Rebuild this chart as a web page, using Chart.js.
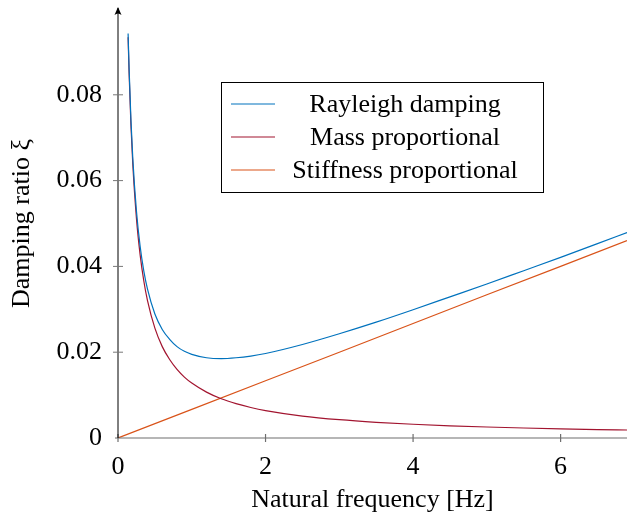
<!DOCTYPE html>
<html>
<head>
<meta charset="utf-8">
<script src="https://cdn.jsdelivr.net/npm/chart.js@4/dist/chart.umd.min.js"></script>
<style>
  html, body { margin: 0; padding: 0; background: #fff; }
  #wrap { width: 627px; height: 517px; }
</style>
</head>
<body>
<div id="wrap"><canvas id="chart" width="627" height="517"></canvas></div>
<script>
// values
var freq = [0.137, 0.15, 0.175, 0.2, 0.25, 0.3, 0.35, 0.4, 0.5, 0.6, 0.7, 0.8, 0.9, 1.0,
            1.2, 1.4, 1.6, 1.8, 2.0, 2.5, 3.0, 3.5, 4.0, 4.5, 5.0, 5.5, 6.0, 6.5, 6.9];
var rayleigh = [0.0943, 0.0863, 0.0743, 0.0653, 0.0529, 0.0447, 0.0389, 0.0347, 0.0289, 0.0253,
                0.0230, 0.0213, 0.0202, 0.0195, 0.0187, 0.0185, 0.0187, 0.0191, 0.0197, 0.0218,
                0.0243, 0.0270, 0.0299, 0.0329, 0.0359, 0.0390, 0.0421, 0.0453, 0.0479];
var massProp = [0.0934, 0.0853, 0.0731, 0.0640, 0.0512, 0.0427, 0.0366, 0.0320, 0.0256, 0.0213,
                0.0183, 0.0160, 0.0142, 0.0128, 0.0107, 0.00914, 0.0080, 0.00711, 0.0064, 0.00512,
                0.00427, 0.00366, 0.0032, 0.00284, 0.00256, 0.00233, 0.00213, 0.00197, 0.00186];
var stiffFreq = [0, 1, 2, 3, 4, 5, 6, 6.9];
var stiffProp = [0, 0.00667, 0.01334, 0.0200, 0.0267, 0.0334, 0.0400, 0.0460];

var seriesNames = ["Rayleigh damping", "Mass proportional", "Stiffness proportional"];
var xTicks = [0, 2, 4, 6];
var xTickLabels = ["0", "2", "4", "6"];
var yTicks = [0, 0.02, 0.04, 0.06, 0.08];
var yTickLabels = ["0", "0.02", "0.04", "0.06", "0.08"];

var FONT = "'Liberation Serif', 'Times New Roman', serif";
var FSIZE = 26;

function pairs(xs, ys) {
    var out = [];
    for (var i = 0; i < xs.length; i++) out.push({ x: xs[i], y: ys[i] });
    return out;
}

// axis lines, crossing ticks and the arrow on the y axis
var axesPlugin = {
    id: "axesPlugin",
    afterDatasetsDraw: function(chart) {
        var ctx = chart.ctx;
        var xs = chart.scales.x, ys = chart.scales.y;
        var x0 = xs.getPixelForValue(0), y0 = ys.getPixelForValue(0);
        ctx.save();
        // x axis
        ctx.strokeStyle = "#6e6e6e";
        ctx.lineWidth = 1.2;
        ctx.beginPath();
        ctx.moveTo(chart.chartArea.left - 3, y0);
        ctx.lineTo(chart.chartArea.right, y0);
        ctx.stroke();
        for (var i = 0; i < xTicks.length; i++) {
            var px = xs.getPixelForValue(xTicks[i]);
            ctx.beginPath();
            ctx.moveTo(px, y0 - 4);
            ctx.lineTo(px, y0 + 4);
            ctx.stroke();
        }
        // y axis
        ctx.strokeStyle = "#000";
        ctx.lineWidth = 1;
        ctx.beginPath();
        ctx.moveTo(x0, y0);
        ctx.lineTo(x0, chart.chartArea.top - 1);
        ctx.stroke();
        ctx.strokeStyle = "#777";
        for (var j = 1; j < yTicks.length; j++) {
            var py = ys.getPixelForValue(yTicks[j]);
            ctx.beginPath();
            ctx.moveTo(x0 - 5, py);
            ctx.lineTo(x0 + 5, py);
            ctx.stroke();
        }
        // arrow head
        var top = chart.chartArea.top - 2;
        ctx.fillStyle = "#000";
        ctx.beginPath();
        ctx.moveTo(x0, top);
        ctx.lineTo(x0 - 3.5, top + 8);
        ctx.quadraticCurveTo(x0, top + 5, x0 + 3.5, top + 8);
        ctx.closePath();
        ctx.fill();
        ctx.restore();
    }
};

// legend box drawn inside the plot area
var boxLegend = {
    id: "boxLegend",
    afterDraw: function(chart) {
        var ctx = chart.ctx;
        var left = 221, top = 82, w = 322, h = 110;
        ctx.save();
        ctx.fillStyle = "#fff";
        ctx.fillRect(left, top, w, h);
        ctx.strokeStyle = "#000";
        ctx.lineWidth = 1;
        ctx.strokeRect(left + 0.5, top + 0.5, w, h);
        ctx.font = FSIZE + "px " + FONT;
        ctx.textAlign = "center";
        ctx.textBaseline = "middle";
        chart.data.datasets.forEach(function(ds, i) {
            var cy = top + 22 + i * 33;
            ctx.strokeStyle = ds.borderColor;
            ctx.lineWidth = 1.2;
            ctx.beginPath();
            ctx.moveTo(left + 10, cy);
            ctx.lineTo(left + 54, cy);
            ctx.stroke();
            ctx.fillStyle = "#000";
            ctx.fillText(ds.label, left + 184, cy + 1);
        });
        ctx.restore();
    }
};

var ctx = document.getElementById("chart").getContext("2d");
var chart = new Chart(ctx, {
    type: "line",
    data: {
        datasets: [
            { label: seriesNames[0], data: pairs(freq, rayleigh), borderColor: "#0072BD",
              borderWidth: 1.2, pointRadius: 0, cubicInterpolationMode: "monotone", fill: false },
            { label: seriesNames[1], data: pairs(freq, massProp), borderColor: "#A2142F",
              borderWidth: 1.2, pointRadius: 0, cubicInterpolationMode: "monotone", fill: false },
            { label: seriesNames[2], data: pairs(stiffFreq, stiffProp), borderColor: "#D95319",
              borderWidth: 1.2, pointRadius: 0, tension: 0, fill: false }
        ]
    },
    options: {
        responsive: false,
        animation: false,
        devicePixelRatio: 1,
        layout: { padding: { top: 9, right: 0, left: 0, bottom: 0 } },
        plugins: { legend: { display: false }, tooltip: { enabled: false } },
        scales: {
            x: {
                type: "linear",
                min: 0,
                max: 6.9,
                grid: { display: false },
                border: { display: false },
                afterBuildTicks: function(scale) {
                    scale.ticks = xTicks.map(function(v) { return { value: v }; });
                },
                afterFit: function(scale) {
                    scale.height = 79;
                    scale.paddingLeft = 0;
                    scale.paddingRight = 0;
                },
                ticks: {
                    padding: 6,
                    color: "#000",
                    font: { family: FONT, size: FSIZE },
                    maxRotation: 0,
                    callback: function(v, i) { return xTickLabels[i]; }
                },
                title: {
                    display: true,
                    text: "Natural frequency [Hz]",
                    color: "#000",
                    font: { family: FONT, size: FSIZE },
                    padding: { top: 0, bottom: 1 }
                }
            },
            y: {
                type: "linear",
                min: 0,
                max: 0.1,
                grid: { display: false },
                border: { display: false },
                afterBuildTicks: function(scale) {
                    scale.ticks = yTicks.map(function(v) { return { value: v }; });
                },
                afterFit: function(scale) {
                    scale.width = 118;
                    scale.paddingTop = 0;
                    scale.paddingBottom = 0;
                },
                ticks: {
                    padding: 8,
                    color: "#000",
                    font: { family: FONT, size: FSIZE },
                    callback: function(v, i) { return yTickLabels[i]; }
                },
                title: {
                    display: true,
                    text: "Damping ratio ξ",
                    color: "#000",
                    font: { family: FONT, size: FSIZE },
                    padding: { top: 7, bottom: 0 }
                }
            }
        }
    },
    plugins: [axesPlugin, boxLegend]
});
</script>
</body>
</html>
